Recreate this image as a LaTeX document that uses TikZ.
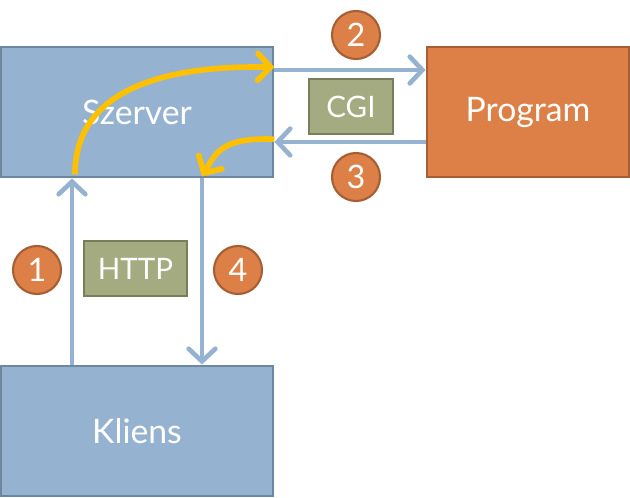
\documentclass[tikz,border=0pt]{standalone}
\usepackage{fontspec}
\setmainfont{Lato}
\usetikzlibrary{positioning, arrows.meta}
\definecolor{boxblue}{HTML}{95B3D0}
\definecolor{boxblueline}{HTML}{6D87A0}
\definecolor{boxorange}{HTML}{DD8047}
\definecolor{boxorangeline}{HTML}{A65F35}
\definecolor{boxgreen}{HTML}{A5AB81}
\definecolor{boxgreenline}{HTML}{7A7D5B}
\definecolor{flowyellow}{HTML}{FFC000}

\begin{document}
\begin{tikzpicture}[
    on grid,
    every node/.style={text=white, font=\fontsize{24}{28}\selectfont},
    bigbox/.style={draw=boxblueline, fill=boxblue, line width=2pt, minimum width=6.8cm, minimum height=3.25cm},
    progbox/.style={draw=boxorangeline, fill=boxorange, line width=2pt, minimum width=5.05cm, minimum height=3.25cm},
    tagbox/.style={draw=boxgreenline, fill=boxgreen, line width=2pt, minimum height=1.375cm, font=\fontsize{21}{25}\selectfont},
    stepnum/.style={circle, draw=boxorangeline, fill=boxorange, line width=1.5pt, minimum size=1.2cm, inner sep=0pt, font=\fontsize{23}{27}\selectfont},
    flow/.style={draw=boxblue, line width=3.3pt, -{Straight Barb[length=9pt, width=19pt, line cap=round]}},
    hop/.style={draw=flowyellow, line width=4pt, -{Straight Barb[length=9pt, width=19pt, line cap=round]}}
]
   \useasboundingbox (0,0) rectangle (15.75,-12.45);

   % Boxes
   \node[bigbox] (szerver) at (3.425,-2.8) {Szerver};
   \node[progbox, right=9.775cm of szerver] (program) {Program};
   \node[bigbox, below=7.975cm of szerver] (kliens) {Kliens};

   % Protocol labels
   \node[tagbox, minimum width=2.1cm] (cgi) at (8.775,-2.6625) {CGI};
   \node[tagbox, minimum width=2.575cm] (http) at (3.3875,-6.7125) {HTTP};

   % Step numbers
   \node[stepnum] (n1) at (0.925,-6.75) {1};
   \node[stepnum] (n2) at (8.9,-0.875) {2};
   \node[stepnum] (n3) at (8.9,-4.425) {3};
   \node[stepnum] (n4) at (5.95,-6.75) {4};

   % Requests and answers
   \draw[flow] ([xshift=-1.625cm]kliens.north) -- ([xshift=-1.625cm]szerver.south);
   \draw[flow] ([yshift=1.05cm]szerver.east) -- ([yshift=1.05cm]program.west);
   \draw[flow] ([yshift=-0.75cm]program.west) -- ([yshift=-0.75cm]szerver.east);
   \draw[flow] ([xshift=1.625cm]szerver.south) -- ([xshift=1.625cm]kliens.north);

   % Path inside the server
   \draw[hop] ([xshift=-1.55cm, yshift=0.1cm]szerver.south)
       .. controls +(0,2.1) and +(-2.8,0.05) .. ([yshift=1.12cm]szerver.east);
   \draw[hop] ([yshift=-0.68cm]szerver.east)
       .. controls +(-1.3,0.05) and +(0.35,0.6) .. ([xshift=1.625cm, yshift=0.05cm]szerver.south);
\end{tikzpicture}
\end{document}
